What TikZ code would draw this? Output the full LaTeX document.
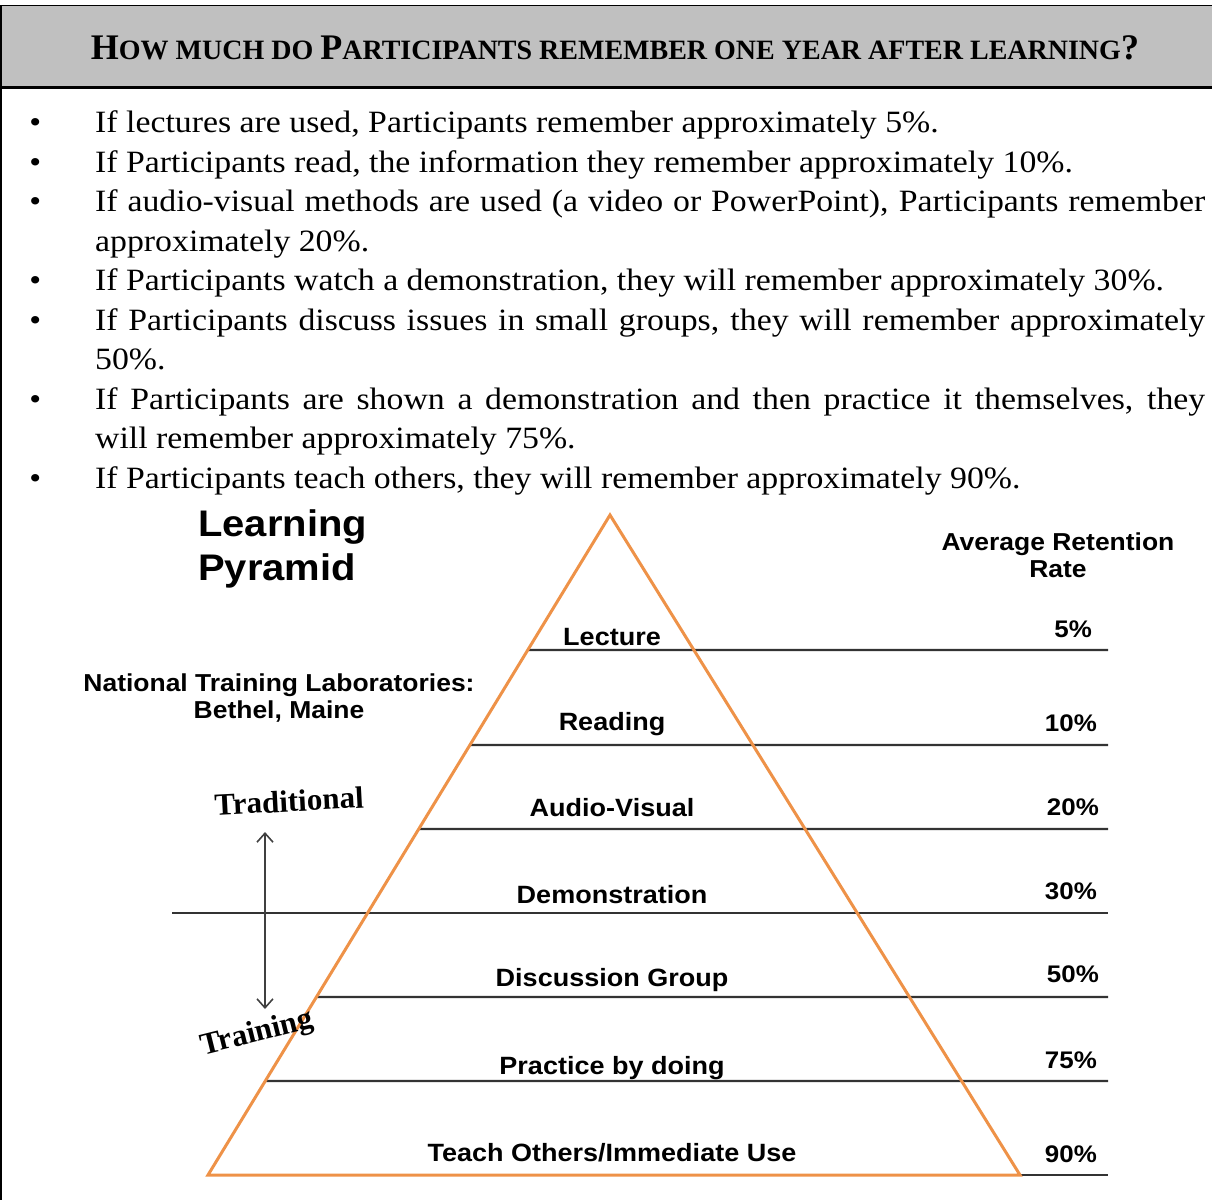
\documentclass[tikz,border=0pt]{standalone}
\usepackage{fontspec}
\setmainfont{Liberation Serif}
\newfontfamily\bodyfont[FakeStretch=1.09]{Liberation Serif}
\newfontfamily\arialfont[FakeStretch=1.08]{Liberation Sans}
\usetikzlibrary{arrows.meta, positioning, calc}

\definecolor{pyrorange}{RGB}{238,146,72}
\definecolor{headgray}{RGB}{192,192,192}
\newcommand\smc[1]{{\fontsize{28}{28}\selectfont #1}}
\newcommand\bul{\par\noindent\strut\llap{\textbullet\hspace*{54pt}}}

\begin{document}
\begin{tikzpicture}[
      x=1pt, y=-1pt,
      rung/.style={draw=black!80, line width=2.4pt},
      tier/.style={font=\arialfont\bfseries\fontsize{25}{27}\selectfont, anchor=base, inner sep=0pt},
      rate/.style={font=\arialfont\bfseries\fontsize{24}{26}\selectfont, anchor=base east, inner sep=0pt},
      side/.style={font=\arialfont\bfseries\fontsize{24.5}{27.5}\selectfont, align=center, inner sep=0pt},
      hand/.style={font=\bfseries\fontsize{31}{32}\selectfont, inner sep=0pt}
   ]
   \useasboundingbox (0,0) rectangle (1212,1200);

   % header band
   \fill[headgray] (1,5) rectangle (1212,87);
   \draw[line width=1pt] (1,5) -- (1212,5);
   \draw[line width=3pt] (1,87) -- (1212,87);
   \draw[line width=1.5pt] (1,5) -- (1,1200);
   \node[font=\bfseries\fontsize{36}{36}\selectfont] (title) at (615,48)
      {H\smc{OW MUCH DO }P\smc{ARTICIPANTS REMEMBER ONE YEAR AFTER LEARNING}?};

   % the bullet list
   \node[anchor=north west, text width=1110pt, align=justify, inner sep=0pt,
         font=\bodyfont\fontsize{31}{39.5}\selectfont] (facts) at (95,93) {%
      \bul If lectures are used, Participants remember approximately 5\%.
      \bul If Participants read, the information they remember approximately 10\%.
      \bul If audio-visual methods are used (a video or PowerPoint), Participants remember\linebreak
         approximately 20\%.
      \bul If Participants watch a demonstration, they will remember approximately 30\%.
      \bul If Participants discuss issues in small groups, they will remember approximately\linebreak
         50\%.
      \bul If Participants are shown a demonstration and then practice it themselves, they\linebreak
         will remember approximately 75\%.
      \bul If Participants teach others, they will remember approximately 90\%.\par};

   % pyramid
   \coordinate (apex) at (610,515);
   \coordinate (bl) at (208,1175);
   \coordinate (br) at (1020,1175);
   \foreach \y in {650,745,829,997,1081}
      \draw[rung] ($(apex)!{(\y-515)/660}!(bl)$) -- (1108,\y);
   \draw[rung] (172,913) -- (1108,913);
   \draw[rung] (br) -- (1108,1175);
   \draw[pyrorange, line width=3pt, line join=miter] (apex) -- (bl) -- (br) -- cycle;

   \node[tier] (lecture) at (612,645) {Lecture};
   \node[tier] (reading) at (612,730) {Reading};
   \node[tier] (audio) at (612,816) {Audio-Visual};
   \node[tier] (demo) at (612,903) {Demonstration};
   \node[tier] (discuss) at (612,986) {Discussion Group};
   \node[tier] (practice) at (612,1074) {Practice by doing};
   \node[tier] (teach) at (612,1161) {Teach Others/Immediate Use};

   \node[rate] (r5) at (1092,637) {5\%};
   \node[rate] (r10) at (1097,731) {10\%};
   \node[rate] (r20) at (1099,815) {20\%};
   \node[rate] (r30) at (1097,899) {30\%};
   \node[rate] (r50) at (1099,982) {50\%};
   \node[rate] (r75) at (1097,1068) {75\%};
   \node[rate] (r90) at (1097,1162) {90\%};

   % side texts
   \node[font=\arialfont\bfseries\fontsize{37}{44}\selectfont, align=left, anchor=north west, inner sep=0pt]
      (pyrtitle) at (198,509) {Learning\\Pyramid};
   \node[side] (rethead) at (1058,555) {Average Retention\\Rate};
   \node[side] (ntl) at (279,698) {National Training Laboratories:\\Bethel, Maine};

   \node[hand, rotate=3] (tradition) at (289,801) {Traditional};
   \node[hand, rotate=14] (training) at (257,1034) {Training};
   \coordinate (up) at (265,832);
   \coordinate (down) at (265,1009);
   \draw[black!75, line width=1.6pt, {Straight Barb[length=9pt,width=16pt]}-{Straight Barb[length=9pt,width=16pt]}] (up) -- (down);
\end{tikzpicture}
\end{document}
